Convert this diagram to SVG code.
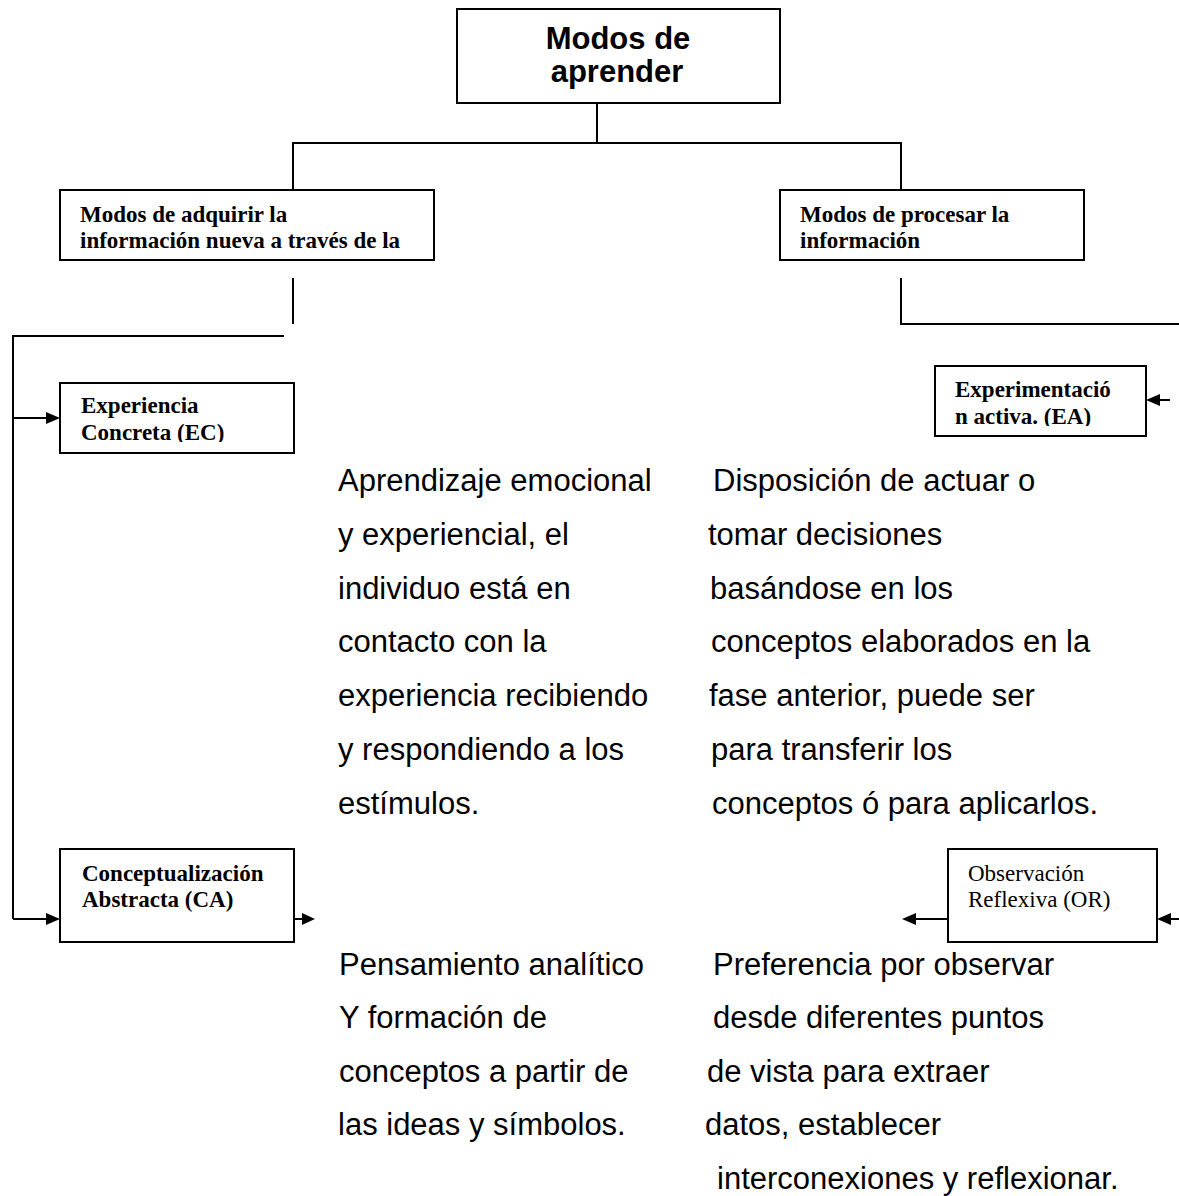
<svg xmlns="http://www.w3.org/2000/svg" width="1179" height="1196" viewBox="0 0 1179 1196">
<style>
.box{fill:#fff;stroke:#000;stroke-width:2}
.ln{fill:none;stroke:#000;stroke-width:2}
.ah{fill:#000}
.t1{font-family:"Liberation Sans",Arial,sans-serif;font-weight:bold;font-size:31px;fill:#000}
.t2{font-family:"Liberation Serif","Times New Roman",serif;font-weight:bold;font-size:23px;fill:#000}
.t3{font-family:"Liberation Serif","Times New Roman",serif;font-size:23px;fill:#000}
.body{font-family:"Liberation Sans",Arial,sans-serif;font-size:31px;fill:#000}
</style>
<defs>
<clipPath id="cEA"><rect x="936" y="367" width="209" height="59"/></clipPath>
<clipPath id="cEC"><rect x="61" y="384" width="232" height="58"/></clipPath>
</defs>
<rect width="1179" height="1196" fill="#fff"/>

<g id="connectors">
<path class="ln" d="M597,103 V143"/>
<path class="ln" d="M293,190 V143 H901 V190"/>
<path class="ln" d="M293,278 V324"/>
<path class="ln" d="M284,336 H13 V919"/>
<path class="ln" d="M901,278 V324 H1179"/>
<path class="ln" d="M13,418 H48"/>
<path class="ah" d="M46,412 L60,418 L46,424 Z"/>
<path class="ln" d="M13,919 H48"/>
<path class="ah" d="M46,913 L60,919 L46,925 Z"/>
<path class="ln" d="M294,919 H302"/>
<path class="ah" d="M302,913 L315,919 L302,925 Z"/>
<path class="ln" d="M1170,400 H1158"/>
<path class="ah" d="M1160,394 L1146,400 L1160,406 Z"/>
<path class="ln" d="M948,919 H914"/>
<path class="ah" d="M916,913 L902,919 L916,925 Z"/>
<path class="ln" d="M1179,919 H1168"/>
<path class="ah" d="M1171,913 L1157,919 L1171,925 Z"/>
</g>

<g id="n-modos-aprender">
<rect class="box" x="457" y="9" width="323" height="94"/>
<text class="t1" x="618" y="49" text-anchor="middle">Modos de</text>
<text class="t1" x="617" y="82" text-anchor="middle">aprender</text>
</g>

<g id="n-adquirir">
<rect class="box" x="60" y="190" width="374" height="70"/>
<text class="t2" x="80" y="222">Modos de adquirir la</text>
<text class="t2" x="80" y="248">información nueva a través de la</text>
</g>

<g id="n-procesar">
<rect class="box" x="780" y="190" width="304" height="70"/>
<text class="t2" x="800" y="222">Modos de procesar la</text>
<text class="t2" x="800" y="248">información</text>
</g>

<g id="n-ec">
<rect class="box" x="60" y="383" width="234" height="70"/>
<g clip-path="url(#cEC)">
<text class="t2" x="81" y="413">Experiencia</text>
<text class="t2" x="81" y="440">Concreta (EC)</text>
</g>
</g>

<g id="n-ea">
<rect class="box" x="935" y="366" width="211" height="70"/>
<g clip-path="url(#cEA)">
<text class="t2" x="955" y="397">Experimentació</text>
<text class="t2" x="955" y="424">n activa. (EA)</text>
</g>
</g>

<g id="n-ca">
<rect class="box" x="60" y="849" width="234" height="93"/>
<text class="t2" x="82" y="881">Conceptualización</text>
<text class="t2" x="82" y="907">Abstracta (CA)</text>
</g>

<g id="n-or">
<rect class="box" x="948" y="849" width="209" height="93"/>
<text class="t3" x="968" y="881">Observación</text>
<text class="t3" x="968" y="907">Reflexiva (OR)</text>
</g>

<g id="txt-ec">
<text class="body" x="338" y="491">Aprendizaje emocional</text>
<text class="body" x="338" y="545">y experiencial, el</text>
<text class="body" x="338" y="599">individuo está en</text>
<text class="body" x="338" y="652">contacto con la</text>
<text class="body" x="338" y="706">experiencia recibiendo</text>
<text class="body" x="338" y="760">y respondiendo a los</text>
<text class="body" x="338" y="814">estímulos.</text>
</g>

<g id="txt-ea">
<text class="body" x="713" y="491">Disposición de actuar o</text>
<text class="body" x="708" y="545">tomar decisiones</text>
<text class="body" x="710" y="599">basándose en los</text>
<text class="body" x="711" y="652">conceptos elaborados en la</text>
<text class="body" x="709" y="706">fase anterior, puede ser</text>
<text class="body" x="711" y="760">para transferir los</text>
<text class="body" x="712" y="814">conceptos ó para aplicarlos.</text>
</g>

<g id="txt-ca">
<text class="body" x="339" y="975">Pensamiento analítico</text>
<text class="body" x="339" y="1028">Y formación de</text>
<text class="body" x="339" y="1082">conceptos a partir de</text>
<text class="body" x="338" y="1135">las ideas y símbolos.</text>
</g>

<g id="txt-or">
<text class="body" x="713" y="975">Preferencia por observar</text>
<text class="body" x="713" y="1028">desde diferentes puntos</text>
<text class="body" x="707" y="1082">de vista para extraer</text>
<text class="body" x="705" y="1135">datos, establecer</text>
<text class="body" x="717" y="1189">interconexiones y reflexionar.</text>
</g>
</svg>
